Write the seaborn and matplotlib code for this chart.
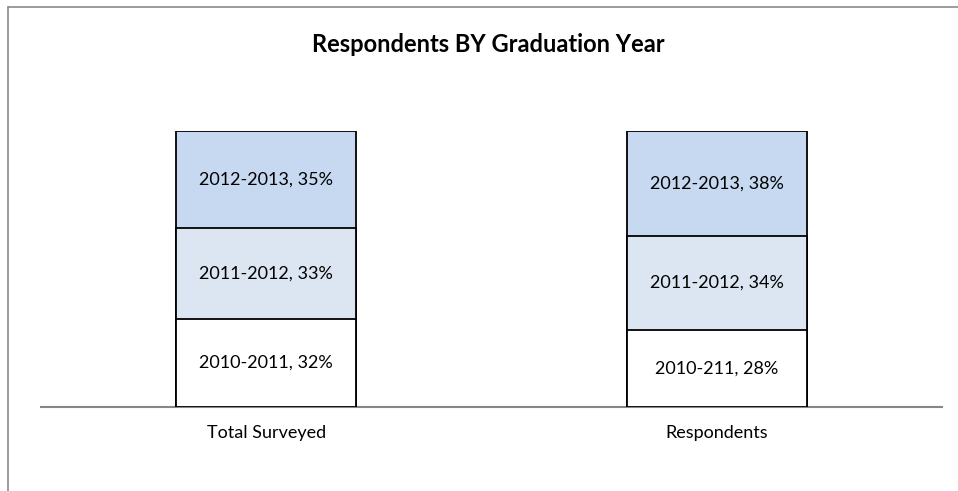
import numpy as np
import pandas as pd
import matplotlib
matplotlib.use("Agg")
import matplotlib.pyplot as plt
import seaborn as sns
from matplotlib.lines import Line2D

# data
groups = ["Total Surveyed", "Respondents"]
pct_2010 = [32, 28]
pct_2011 = [33, 34]
pct_2012 = [35, 38]
labels_2010 = ["2010-2011, 32%", "2010-211, 28%"]
labels_2011 = ["2011-2012, 33%", "2011-2012, 34%"]
labels_2012 = ["2012-2013, 35%", "2012-2013, 38%"]

sns.set_theme(style="white")
plt.rcParams["font.family"] = ["Lato", "DejaVu Sans"]

df = pd.DataFrame({"group": groups, "a": pct_2010, "b": pct_2011, "c": pct_2012})
df["ab"] = df["a"] + df["b"]
df["abc"] = df["ab"] + df["c"]

fig = plt.figure(figsize=(9.58, 4.91), dpi=100)
ax = fig.add_axes([41 / 958, 84 / 491, 901 / 958, 276 / 491])

# overlapping cumulative bars give the stacked look
layers = [("abc", "#C6D9F1"), ("ab", "#DCE6F2"), ("a", "#FFFFFF")]
for col, colour in layers:
    sns.barplot(data=df, x="group", y=col, color=colour, saturation=1,
                edgecolor="black", linewidth=1.3, width=0.4, ax=ax)

# segment labels
for i in range(len(groups)):
    mids = [df["a"][i] / 2, df["a"][i] + df["b"][i] / 2, df["ab"][i] + df["c"][i] / 2]
    for y, txt in zip(mids, [labels_2010[i], labels_2011[i], labels_2012[i]]):
        ax.text(i, y, txt, ha="center", va="center", fontsize=13, color="black")

ax.set_xlim(-0.5, 1.5)
ax.set_ylim(0, 100)
ax.set_xlabel("")
ax.set_ylabel("")
ax.set_yticks([])
for s in ["top", "left", "right"]:
    ax.spines[s].set_visible(False)
ax.spines["bottom"].set_color("#868686")
ax.spines["bottom"].set_linewidth(1.5)
ax.spines["bottom"].set_zorder(0)
ax.tick_params(axis="x", length=0, pad=13, labelsize=13, labelcolor="black")

fig.text(488 / 958, 1 - 45 / 491, "Respondents BY Graduation Year",
         ha="center", va="center", fontsize=17, fontweight="bold", color="black")

# outer chart frame (cut off at right and bottom)
fig.add_artist(Line2D([8 / 958, 1], [1 - 7 / 491, 1 - 7 / 491], color="#8a8a8a", lw=1.2))
fig.add_artist(Line2D([8 / 958, 8 / 958], [0, 1 - 7 / 491], color="#8a8a8a", lw=1.2))

fig.savefig("out.png", dpi=100, facecolor="white")
